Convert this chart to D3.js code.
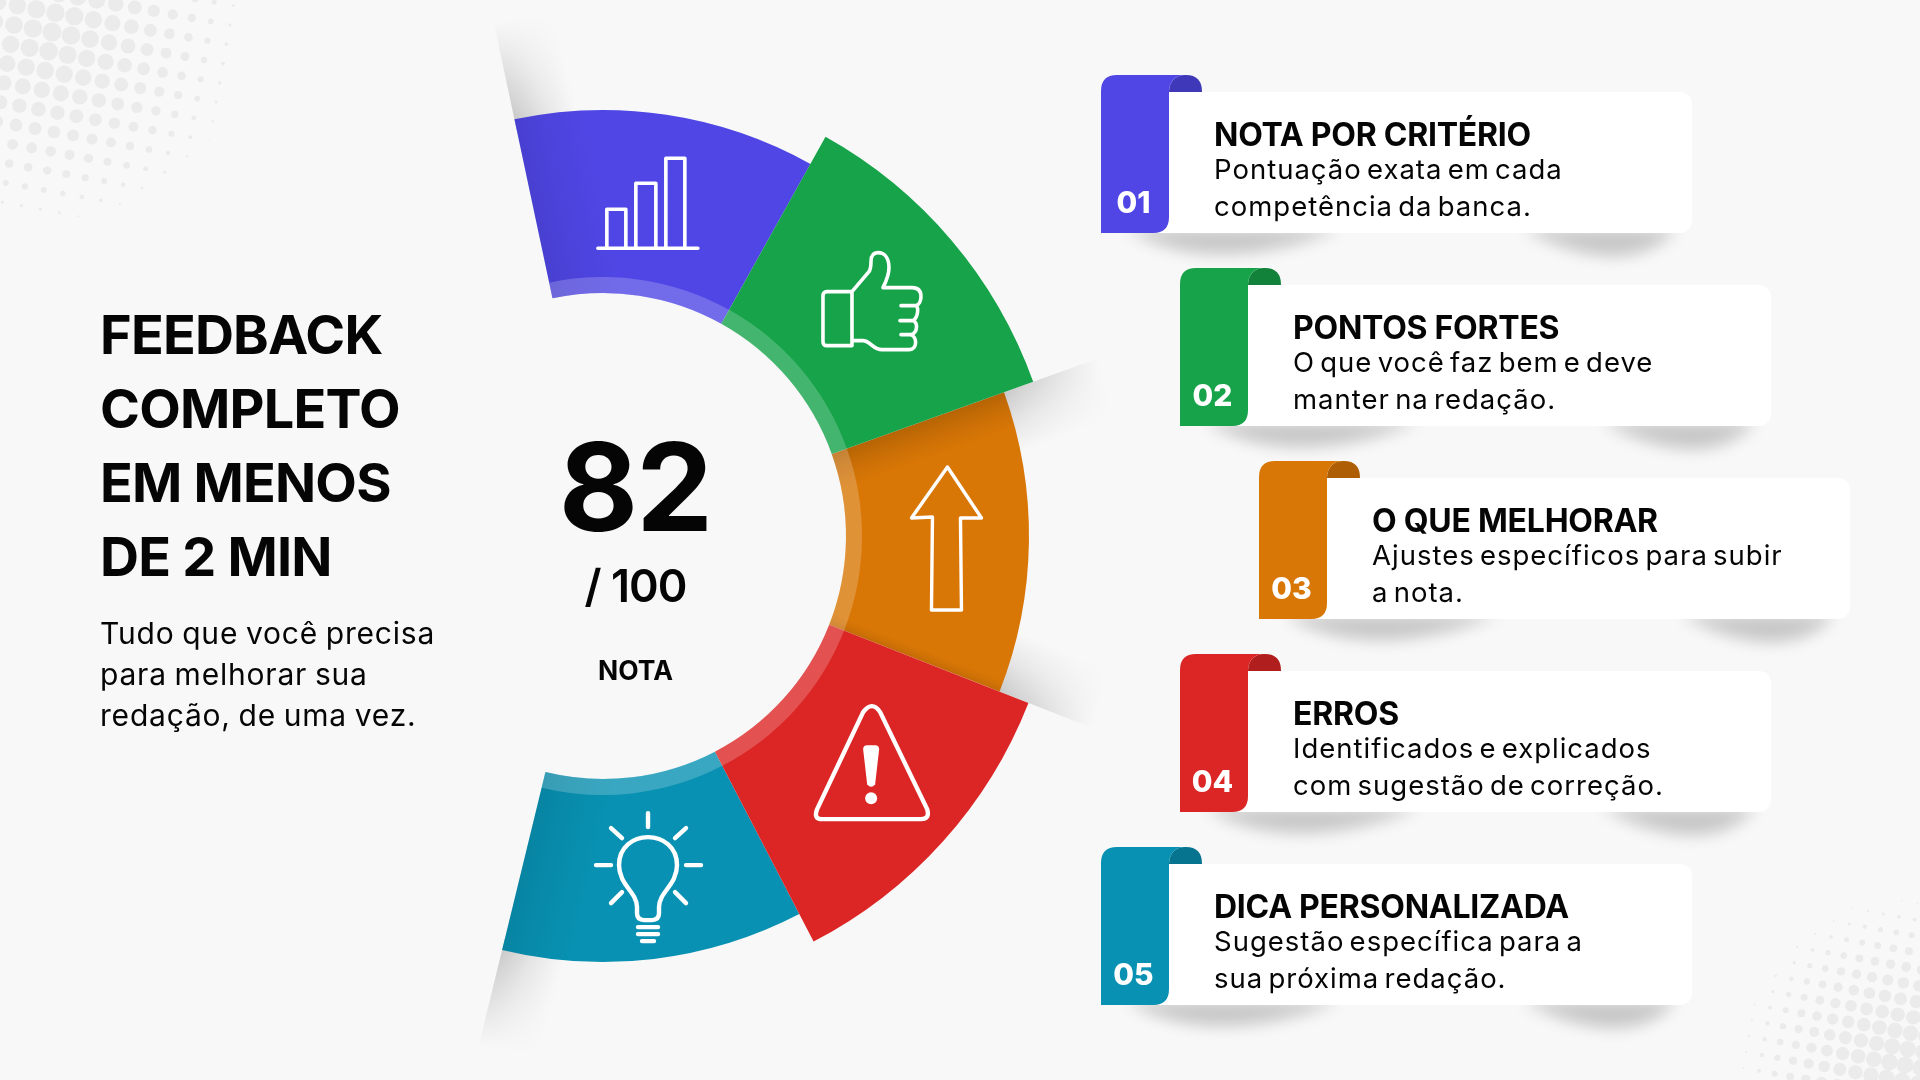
<!DOCTYPE html>
<html>
<head>
<meta charset="utf-8">
<script src="https://cdn.jsdelivr.net/npm/d3@7"></script>
<style>
  html, body { margin: 0; padding: 0; background: #f8f8f8; }
  svg { display: block; }
  text { font-family: Inter, sans-serif; fill: #050505; }
</style>
</head>
<body>
<svg id="chart" width="1920" height="1080"></svg>
<script>
const sectionValues = [1, 1, 1, 1, 1];
const sectionColors = ["#4f46e5", "#16a34a", "#d97706", "#dc2626", "#0891b2"];
const flapColors = ["#3f38b8", "#12823b", "#ae5f05", "#b01e1e", "#06748e"];
const cardNumbers = ["01", "02", "03", "04", "05"];
const cardTitles = ["NOTA POR CRITÉRIO", "PONTOS FORTES", "O QUE MELHORAR", "ERROS", "DICA PERSONALIZADA"];
const cardFirstLines = ["Pontuação exata em cada", "O que você faz bem e deve", "Ajustes específicos para subir", "Identificados e explicados", "Sugestão específica para a"];
const cardSecondLines = ["competência da banca.", "manter na redação.", "a nota.", "com sugestão de correção.", "sua próxima redação."];
const headingLines = ["FEEDBACK", "COMPLETO", "EM MENOS", "DE 2 MIN"];
const introLines = ["Tudo que você precisa", "para melhorar sua", "redação, de uma vez."];
const scoreValue = "82";
const scoreTotal = "/ 100";
const scoreLabel = "NOTA";

const svg = d3.select("#chart");
const defs = svg.append("defs");
const cx = 603, cy = 536;
const innerR = 243, bandR = 259, outerR = 426, raisedR = 457, shadowR = 525;
const rad = d => d * Math.PI / 180;

defs.append("filter").attr("id", "soft").attr("x", "-30%").attr("y", "-150%").attr("width", "160%").attr("height", "400%")
    .append("feGaussianBlur").attr("stdDeviation", 8);

// halftone dots in two corners
const dots = svg.append("g");
function halftone(ox, oy, reach, maxR, pitch, power) {
  const k = pitch / 19;
  d3.range(-14, 15).forEach(i => d3.range(-14, 15).forEach(j => {
    const x = ox + (i * 19 - j * 3.4) * k;
    const y = oy + (i * 3.5 + j * 19.3) * k;
    const d = Math.hypot(x - ox, y - oy);
    const r = maxR * (1 - Math.pow(d / reach, power));
    if (r > 0.4) dots.append("circle").attr("cx", x).attr("cy", y).attr("r", r).attr("fill", "#ebebeb");
  }));
}
halftone(52, 32, 200, 9.5, 19, 1.6);
halftone(1905, 1065, 175, 8.5, 15.6, 1.5);

const slices = d3.pie().sort(null).startAngle(rad(-12)).endAngle(rad(193.7))(sectionValues);
const arc = d3.arc();
const center = `translate(${cx},${cy})`;

// fading radial mask for the shadows behind the ring tips
const fade = defs.append("radialGradient").attr("id", "fadeOut").attr("gradientUnits", "userSpaceOnUse")
    .attr("cx", cx).attr("cy", cy).attr("r", shadowR);
fade.append("stop").attr("offset", 0.8).attr("stop-color", "#fff");
fade.append("stop").attr("offset", 1).attr("stop-color", "#000");
defs.append("mask").attr("id", "tipMask").attr("maskUnits", "userSpaceOnUse")
    .attr("x", 0).attr("y", 0).attr("width", 1920).attr("height", 1080)
    .append("rect").attr("width", 1920).attr("height", 1080).attr("fill", "url(#fadeOut)");

// gradient lives in the centre-translated space of the wedge that uses it
function edgeGradient(id, angle, dir, r, spread, opacity) {
  const px = r * Math.sin(angle), py = -r * Math.cos(angle);
  const g = defs.append("linearGradient").attr("id", id).attr("gradientUnits", "userSpaceOnUse")
      .attr("x1", px).attr("y1", py)
      .attr("x2", px + dir * spread * Math.cos(angle)).attr("y2", py + dir * spread * Math.sin(angle));
  g.append("stop").attr("offset", 0).attr("stop-color", "#000").attr("stop-opacity", opacity);
  g.append("stop").attr("offset", 0.45).attr("stop-color", "#000").attr("stop-opacity", opacity * 0.45);
  g.append("stop").attr("offset", 1).attr("stop-color", "#000").attr("stop-opacity", 0);
  return "url(#" + id + ")";
}

function edgeWedge(parent, id, angle, dir, r0, r1, spread, opacity) {
  const span = dir * Math.asin(Math.min(1, spread / r0));
  parent.append("path")
      .attr("transform", center)
      .attr("d", arc({innerRadius: r0, outerRadius: r1,
                      startAngle: Math.min(angle, angle + span), endAngle: Math.max(angle, angle + span)}))
      .attr("fill", edgeGradient(id, angle, dir, r0, spread, opacity));
}

const tipShadows = svg.append("g").attr("mask", "url(#tipMask)");
edgeWedge(tipShadows, "tip0", slices[0].startAngle, 1, 415, shadowR, 62, 0.2);
edgeWedge(tipShadows, "tip1", slices[2].startAngle, 1, 415, shadowR, 62, 0.2);
edgeWedge(tipShadows, "tip2", slices[3].startAngle, -1, 415, shadowR, 62, 0.2);
edgeWedge(tipShadows, "tip3", slices[4].endAngle, -1, 415, shadowR, 62, 0.2);

// ring, flat sections first so the raised ones sit over them
const ring = svg.append("g");
const drawOrder = [0, 2, 4, 1, 3];
const drawSlice = i => {
  ring.append("path")
      .attr("transform", center)
      .attr("d", arc({innerRadius: innerR, outerRadius: i % 2 ? raisedR : outerR,
                      startAngle: slices[i].startAngle, endAngle: slices[i].endAngle}))
      .attr("fill", sectionColors[i]);
};
drawOrder.slice(0, 3).forEach(drawSlice);
edgeWedge(ring, "in0", slices[0].startAngle, 1, innerR, outerR, 70, 0.09);
edgeWedge(ring, "in1", slices[2].startAngle, 1, innerR, outerR, 38, 0.16);
edgeWedge(ring, "in2", slices[2].endAngle, -1, innerR, outerR, 12, 0.1);
edgeWedge(ring, "in3", slices[4].endAngle, -1, innerR, outerR, 70, 0.09);
drawOrder.slice(3).forEach(drawSlice);

slices.forEach(s => {
  ring.append("path")
      .attr("transform", center)
      .attr("d", arc({innerRadius: innerR, outerRadius: bandR, startAngle: s.startAngle, endAngle: s.endAngle}))
      .attr("fill", "#fff").attr("opacity", 0.2);
});

// icons, local coordinates around each section centre
const iconPaths = [
  "M-50,46H50M-41,46V7H-22V46M-12,46V-19H8V46M18,46V-44H37V46",
  "M-46,-8H-21V46H-46Q-50,46 -50,42V-4Q-50,-8 -46,-8ZM-21,-8L-4,-28Q-2,-31 -2,-38C-2,-45 1,-47 5,-47C12,-47 16,-41 16,-32C16,-26 13,-18 10,-12H39C46,-12 48,-8 48,-3C48,1 46,5 43,6H28M43,6C46,8 45,18 40,21H27M40,21C45,23 45,33 38,35H28M38,35C44,37 45,50 36,50H9C0,50 -3,41 -10,41H-21",
  "M1,-72L-35,-21L-14,-22L-15,71H15L14,-21L35,-21Z",
  "M-9,-50Q0,-62 8,-50L55,47Q58,57 49,57H-50Q-59,57 -55,47Z",
  "M-11,30C-11,15 -29,8 -29,-12C-29,-30 -15,-40 0,-40C15,-40 29,-30 29,-12C29,8 11,15 11,30V36Q11,43 4,43H-4Q-11,43 -11,36ZM0,-64V-50M-52,-12H-37M38,-12H53M-37,-49L-26,-39M38,-49L27,-39M-37,26L-26,15M38,26L27,15M-10,50H10M-10,57H10M-6,64H6"
];
const iconNudges = [[-5, -3], [3, -10], [9, -2], [9, -8], [5, 9]];
const iconWidths = [3.6, 3.6, 3.4, 4.4, 4.4];
slices.forEach((s, i) => {
  const c = arc.centroid({innerRadius: innerR, outerRadius: i % 2 ? raisedR : outerR,
                          startAngle: s.startAngle, endAngle: s.endAngle});
  const g = svg.append("g").attr("transform", `translate(${cx + c[0] + iconNudges[i][0]},${cy + c[1] + iconNudges[i][1]})`);
  g.append("path").attr("d", iconPaths[i]).attr("fill", "none").attr("stroke", "#fff")
      .attr("stroke-width", iconWidths[i]).attr("stroke-linecap", "round").attr("stroke-linejoin", "round");
  if (i === 3) {
    g.append("path").attr("d", "M-9,-13Q-9,-17 -5,-17H3Q7,-17 7,-13L3,22Q-1,27 -5,22Z").attr("fill", "#fff");
    g.append("circle").attr("cx", -1).attr("cy", 36).attr("r", 6).attr("fill", "#fff");
  }
});

// centre score
svg.append("text").attr("x", 635).attr("y", 531).attr("text-anchor", "middle")
    .attr("font-size", 122).attr("font-weight", 700).attr("letter-spacing", -2).text(scoreValue);
svg.append("text").attr("x", 635.5).attr("y", 602).attr("text-anchor", "middle")
    .attr("font-size", 45).attr("font-weight", 600).attr("letter-spacing", -1).text(scoreTotal);
svg.append("text").attr("x", 635.5).attr("y", 680).attr("text-anchor", "middle")
    .attr("font-size", 26.5).attr("font-weight", 700).text(scoreLabel);

// left column
headingLines.forEach((t, i) => {
  svg.append("text").attr("x", 100).attr("y", 354 + i * 74).attr("font-size", 54).attr("font-weight", 700)
      .attr("letter-spacing", -0.8).text(t);
});
introLines.forEach((t, i) => {
  svg.append("text").attr("x", 100).attr("y", 644 + i * 41).attr("font-size", 30)
      .attr("letter-spacing", 0.8).attr("word-spacing", -1.5).text(t);
});

// cards
const cardLefts = [1101, 1180, 1259, 1180, 1101];
const cards = svg.append("g");
cardNumbers.forEach((num, i) => {
  const x = cardLefts[i], top = 75 + i * 193;
  const cardTop = top + 17, bottom = top + 158, tabRight = x + 68, flapRight = x + 101, right = x + 591;
  const g = cards.append("g");

  // leaf shaped shadows under the card
  g.append("path").attr("d", `M${x + 25},${bottom - 4}Q${x + 110},${bottom + 46} ${x + 240},${bottom - 4}Z`)
      .attr("fill", "#000").attr("opacity", 0.2).attr("filter", "url(#soft)");
  g.append("path").attr("d", `M${right - 170},${bottom - 4}Q${right - 65},${bottom + 50} ${right - 15},${bottom - 4}Z`)
      .attr("fill", "#000").attr("opacity", 0.2).attr("filter", "url(#soft)");

  g.append("rect").attr("x", tabRight - 20).attr("y", cardTop).attr("width", right - tabRight + 20).attr("height", bottom - cardTop)
      .attr("rx", 12).attr("fill", "#fff");

  const r = 16;
  g.append("path").attr("d", `M${tabRight},${cardTop}C${tabRight},${cardTop - 10} ${tabRight + 6},${top} ${tabRight + 16},${top}H${flapRight - r}Q${flapRight},${top} ${flapRight},${cardTop}Z`)
      .attr("fill", flapColors[i]);
  g.append("path").attr("d", `M${x},${bottom}V${top + r}Q${x},${top} ${x + r},${top}H${tabRight + 16}C${tabRight + 6},${top} ${tabRight},${cardTop - 10} ${tabRight},${cardTop}V${bottom - r}Q${tabRight},${bottom} ${tabRight - r},${bottom}Z`)
      .attr("fill", sectionColors[i]);

  g.append("text").attr("x", x + 32.5).attr("y", top + 138).attr("text-anchor", "middle")
      .attr("font-size", 30).attr("font-weight", 800).style("fill", "#fff").text(num);
  g.append("text").attr("x", x + 113).attr("y", top + 70.5).attr("font-size", 32).attr("font-weight", 700)
      .attr("letter-spacing", -0.25).text(cardTitles[i]);
  g.append("text").attr("x", x + 113).attr("y", top + 104).attr("font-size", 27.5)
      .attr("letter-spacing", 1).attr("word-spacing", -3.5).text(cardFirstLines[i]);
  g.append("text").attr("x", x + 113).attr("y", top + 141).attr("font-size", 27.5)
      .attr("letter-spacing", 1).attr("word-spacing", -3.5).text(cardSecondLines[i]);
});
</script>
</body>
</html>
